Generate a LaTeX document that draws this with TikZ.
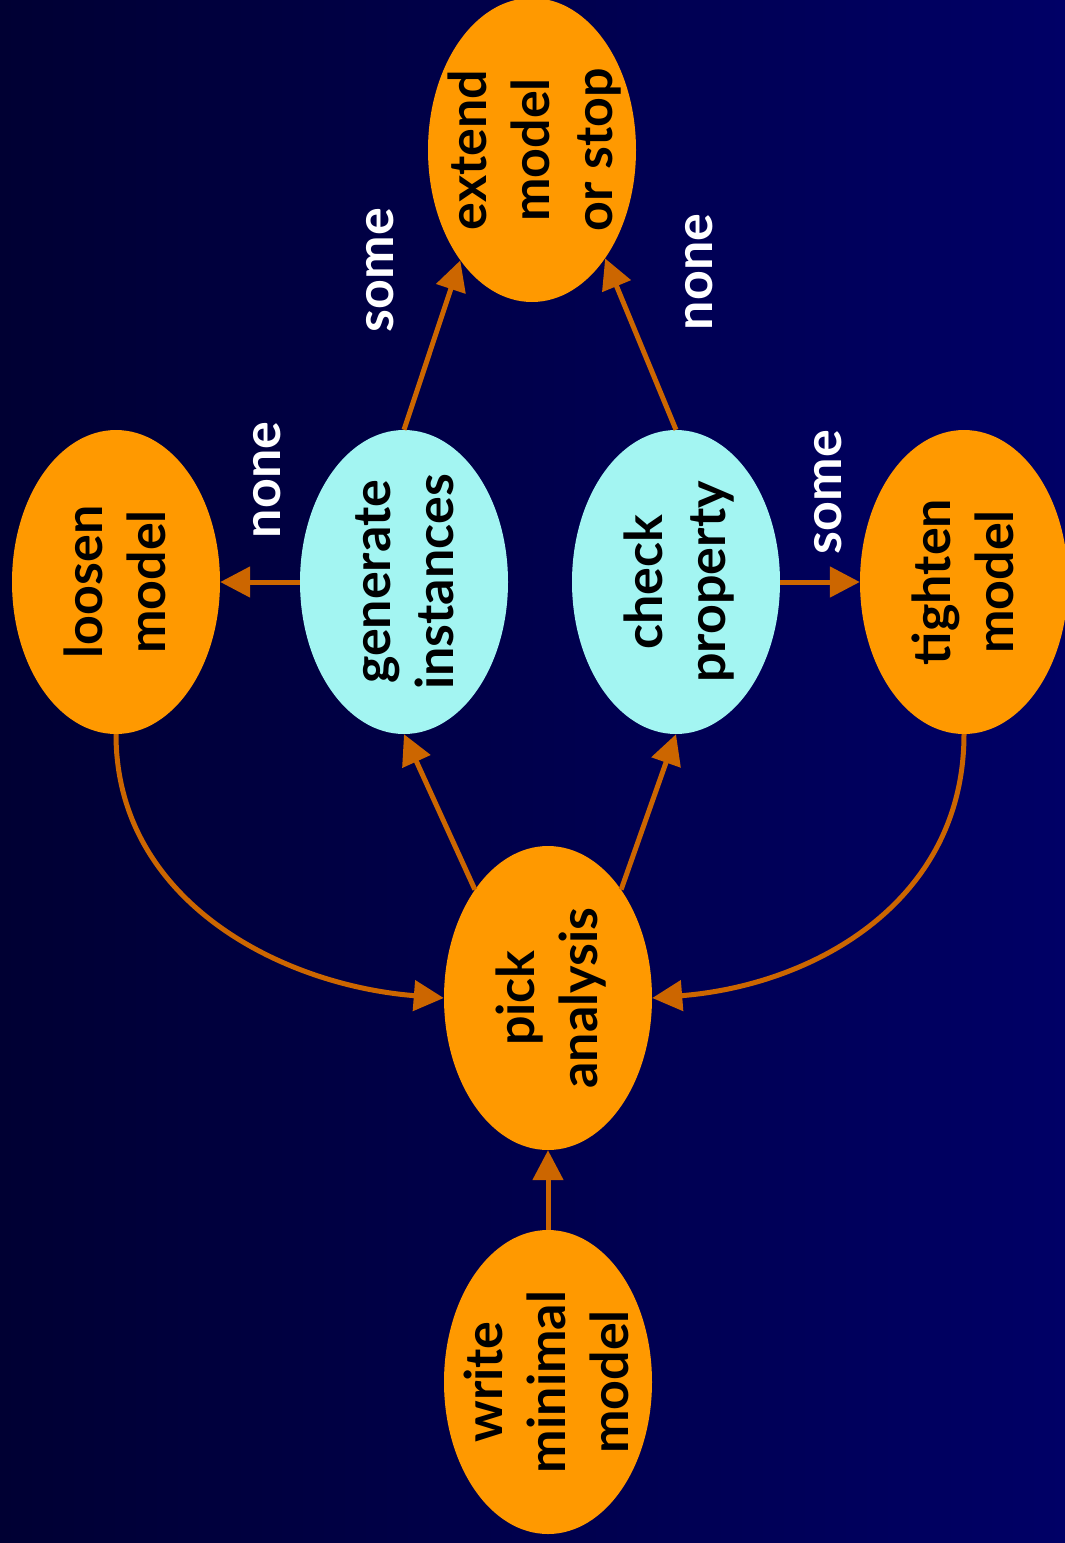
\documentclass[tikz,border=0pt]{standalone}
\usepackage{fontspec}
\setmainfont{Lato}
\usetikzlibrary{shapes.geometric,arrows.meta}
\definecolor{bgL}{RGB}{0,0,51}
\definecolor{bgR}{RGB}{0,0,102}
\definecolor{orng}{RGB}{255,153,0}
\definecolor{cyn}{RGB}{163,245,242}
\definecolor{edgec}{RGB}{204,102,0}
\newcommand{\lbl}[1]{\rotatebox{90}{\fontsize{52}{63}\selectfont\bfseries\begin{tabular}{@{}c@{}}#1\end{tabular}}}
\begin{document}
\begin{tikzpicture}[x=1pt,y=-1pt,
  bubble/.style={ellipse,minimum width=208pt,minimum height=304pt,inner sep=0pt,text=black,
    label={[inner sep=0pt,text=black,xshift=5pt]center:\lbl{#1}}},
  orn/.style={bubble=#1,fill=orng},
  cy/.style={bubble=#1,fill=cyn},
  edge/.style={draw=edgec,line width=5pt,-{Triangle[length=30pt,width=30pt]}},
  lab/.style={text=white,font=\fontsize{52}{63}\selectfont\bfseries,rotate=90,inner sep=0pt}]
\shade[left color=bgL,right color=bgR] (0,0) rectangle (1065,1543);
\useasboundingbox (0,0) rectangle (1065,1543);
\node[orn={extend\\model\\or stop}] (extend) at (532,150) {};
\node[orn={loosen\\model}] (loosen) at (116,582) {};
\node[cy={generate\\instances}] (gen) at (404,582) {};
\node[cy={check\\property}] (check) at (676,582) {};
\node[orn={tighten\\model}] (tighten) at (964,582) {};
\node[orn={pick\\analysis}] (pick) at (548,998) {};
\node[orn={write\\minimal\\model}] (write) at (548,1382) {};
\draw[edge] (write) -- (pick);
\draw[edge] (pick.124) -- (gen.south);
\draw[edge] (pick.56) -- (check.south);
\draw[edge] (gen) -- (loosen);
\draw[edge] (check) -- (tighten);
\draw[edge] (gen.north) -- (extend.237);
\draw[edge] (check.north) -- (extend.304);
\draw[edge] (loosen.south) .. controls +(0,166) and +(-164,-13) .. (pick.west);
\draw[edge] (tighten.south) .. controls +(0,166) and +(164,-13) .. (pick.east);
\node[lab] (l1) at (267,480) {none};
\node[lab] (l2) at (380,270) {some};
\node[lab] (l3) at (699,272) {none};
\node[lab] (l4) at (828,492) {some};
\end{tikzpicture}
\end{document}
